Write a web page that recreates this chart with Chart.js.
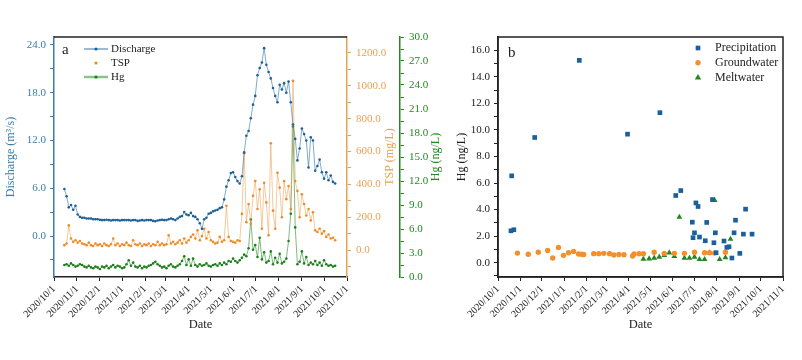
<!DOCTYPE html>
<html>
<head>
<meta charset="utf-8">
<script src="https://cdn.jsdelivr.net/npm/chart.js@4.4.1/dist/chart.umd.min.js"></script>
<style>
  html, body { margin: 0; padding: 0; background: #fff; }
  #chartA { position: absolute; left: 0; top: 0; }
  #chartB { position: absolute; left: 446px; top: 0; }
</style>
</head>
<body>
<canvas id="chartA" width="446" height="360"></canvas>
<canvas id="chartB" width="356" height="360"></canvas>
<script>
// month ticks shared by both panels
const monthLabels = ['2020/10/1', '2020/11/1', '2020/12/1', '2021/1/1', '2021/2/1', '2021/3/1', '2021/4/1',
    '2021/5/1', '2021/6/1', '2021/7/1', '2021/8/1', '2021/9/1', '2021/10/1', '2021/11/1'];

// panel a: river series, one reading every 3 days from 2020/10/15
const seriesStart = '2020/10/15';
const seriesStep = 3;
const discharge = [
    5.9, 5.0, 3.6, 3.9, 3.3, 3.8, 2.7, 2.4, 2.3, 2.3,
    2.2, 2.2, 2.2, 2.1, 2.1, 2.1, 2.05, 2.0, 2.0, 2.05,
    2.0, 1.95, 2.0, 2.0, 2.0, 1.95, 2.0, 2.0, 2.0, 2.0,
    1.95, 2.0, 2.0, 1.9, 1.95, 2.0, 1.95, 2.0, 2.0, 2.0,
    1.9, 1.85, 1.95, 2.0, 2.05, 2.0, 2.0, 2.1, 2.2, 2.1,
    2.0, 2.2, 2.4, 2.5, 3.0, 2.7, 2.6, 2.9, 2.5, 2.4,
    2.1, 1.6, 0.9, 2.1, 2.3, 2.8, 2.9, 3.1, 3.2, 3.3,
    3.5, 3.6, 4.6, 6.2, 7.0, 7.9, 8.0, 7.4, 6.9, 6.6,
    7.5, 10.5, 12.6, 13.2, 14.8, 16.5, 17.6, 20.2, 21.1, 21.8,
    23.6, 21.5, 20.6, 19.8, 18.6, 17.6, 16.8, 19.0, 18.4, 19.2,
    18.0, 19.4, 16.8, 14.0, 12.2, 9.5, 11.0, 13.5, 12.8, 12.0,
    8.6, 12.4, 12.0, 8.2, 8.8, 9.6, 8.0, 7.2, 8.0, 7.0,
    7.6, 6.8, 6.6
];
const tsp = [
    30, 40, 150, 70, 50, 60, 45, 55, 40, 35,
    30, 45, 30, 25, 40, 30, 35, 25, 40, 30,
    25, 35, 70, 30, 40, 25, 35, 30, 45, 30,
    25, 60, 35, 30, 40, 25, 35, 30, 40, 25,
    35, 30, 50, 30, 40, 30, 35, 90, 40, 50,
    35, 45, 60, 40, 70, 45, 60, 80, 95, 70,
    120, 60, 85, 130, 70, 110, 60, 50, 40, 45,
    80, 50, 60, 270, 80, 55, 50, 45, 60, 55,
    220, 590, 170, 280, 160, 330, 420, 250, 370, 130,
    410, 290, 90, 650, 240, 130, 470, 380, 200, 420,
    310, 390, 250, 1030, 420, 360, 200, 340, 280, 210,
    250, 180, 230, 120, 110, 130, 100, 115, 80, 95,
    70, 75, 60
];
const hgRiver = [
    1.5, 1.6, 1.4, 1.7, 1.5, 1.3, 1.4, 1.6, 1.5, 1.3,
    1.2, 1.4, 1.2, 1.1, 1.3, 1.2, 1.0, 1.3, 1.2, 1.4,
    1.1, 1.3, 1.5, 1.2, 1.4, 1.3, 1.1, 1.2, 1.6, 2.1,
    1.4, 1.8, 1.3, 1.2, 1.4, 1.1, 1.3, 1.2, 1.4, 1.5,
    1.7, 1.9, 1.6, 1.4, 1.2, 1.3, 1.1, 1.4, 1.6, 1.3,
    1.2, 1.4, 1.6, 2.0, 2.6, 1.5, 2.2, 1.4, 2.3, 1.5,
    1.3, 1.6, 1.4, 1.5, 1.7, 1.4, 1.3, 1.5, 1.6, 1.4,
    1.7, 1.5, 1.8, 1.6, 2.0, 1.9, 2.3, 2.0, 1.8, 2.1,
    2.4, 2.8, 2.6, 3.6, 7.2, 3.4, 4.0, 2.5, 4.9, 2.2,
    3.1, 1.8, 2.0, 3.2, 1.6, 2.4, 1.8, 2.9, 1.7, 1.9,
    2.3, 4.5, 7.9, 18.8, 6.2, 1.6, 1.9, 3.2, 1.7, 2.5,
    1.5, 1.8, 1.6, 2.0, 1.5, 1.8, 1.4, 2.1, 1.6, 1.4,
    1.5, 1.3, 1.4
];

// panel b: Hg in water sources
const precipDates = ['2020/10/19', '2020/10/20', '2020/10/23', '2020/11/21', '2021/1/22', '2021/3/30', '2021/5/14',
    '2021/6/5', '2021/6/12', '2021/6/28', '2021/6/29', '2021/7/1', '2021/7/3', '2021/7/6', '2021/7/8', '2021/7/16',
    '2021/7/18', '2021/7/26', '2021/7/28', '2021/7/30', '2021/7/31', '2021/8/11', '2021/8/15', '2021/8/18',
    '2021/8/22', '2021/8/25', '2021/8/27', '2021/9/2', '2021/9/7', '2021/9/10', '2021/9/19'];
const precipHg = [2.4, 6.54, 2.48, 9.43, 15.24, 9.68, 11.3,
    5.06, 5.43, 3.05, 1.88, 2.25, 4.5, 4.23, 1.93, 1.65,
    3.03, 4.75, 1.5, 2.25, 0.75, 1.63, 1.15, 1.2,
    0.35, 2.25, 3.2, 0.7, 2.15, 4.03, 2.15];
const groundDates = ['2020/10/28', '2020/11/12', '2020/11/26', '2020/12/9', '2020/12/16', '2020/12/24', '2020/12/31',
    '2021/1/7', '2021/1/14', '2021/1/21', '2021/1/25', '2021/1/28', '2021/2/11', '2021/2/18', '2021/2/25', '2021/3/5',
    '2021/3/11', '2021/3/18', '2021/3/25', '2021/4/6', '2021/4/8', '2021/4/15', '2021/4/21', '2021/5/6', '2021/5/20',
    '2021/6/3', '2021/6/17', '2021/7/1', '2021/7/15', '2021/7/22', '2021/7/29', '2021/8/13'];
const groundHg = [0.72, 0.63, 0.78, 0.92, 0.35, 1.15, 0.55,
    0.75, 0.85, 0.65, 0.63, 0.62, 0.68, 0.68, 0.7, 0.68,
    0.58, 0.62, 0.6, 0.5, 0.65, 0.67, 0.67, 0.78, 0.7,
    0.7, 0.7, 0.78, 0.75, 0.75, 0.72, 0.78];
const meltDates = ['2021/4/21', '2021/4/29', '2021/5/6', '2021/5/13', '2021/5/20', '2021/5/27', '2021/6/3', '2021/6/10',
    '2021/6/17', '2021/6/24', '2021/7/1', '2021/7/8', '2021/7/15', '2021/7/22', '2021/7/29', '2021/8/5', '2021/8/13',
    '2021/8/20'];
const meltHg = [0.28, 0.3, 0.35, 0.43, 0.55, 0.75, 0.48, 3.43,
    0.35, 0.35, 0.43, 0.25, 0.25, 0.75, 4.7, 0.25, 0.38,
    1.78];

// axis ticks (every other one gets a label)
const dischargeTicks = [-3, 0, 3, 6, 9, 12, 15, 18, 21, 24];
const tspTicks = [-100, 0, 100, 200, 300, 400, 500, 600, 700, 800, 900, 1000, 1100, 1200];
const hgTicks = [0, 1.5, 3, 4.5, 6, 7.5, 9, 10.5, 12, 13.5, 15, 16.5, 18, 19.5, 21, 22.5, 24, 25.5, 27, 28.5, 30];
const sampleTicks = [-1, 0, 1, 2, 3, 4, 5, 6, 7, 8, 9, 10, 11, 12, 13, 14, 15, 16];

const serif = '"Liberation Serif", "Times New Roman", serif';
const BLUE = '#3b7daa', ORANGE = '#e9a153', GREEN = '#1f8a1f', INK = '#222';
Chart.defaults.font.family = serif;
Chart.defaults.animation = false;

function dayOf(str) {
    const [y, m, d] = str.split('/').map(Number);
    return (Date.UTC(y, m - 1, d) - Date.UTC(2020, 9, 1)) / 864e5;
}
const monthDays = monthLabels.map(dayOf);

function daily(values) {
    const start = dayOf(seriesStart);
    return values.map((v, i) => ({ x: start + i * seriesStep, y: v }));
}
function pairs(dates, values) {
    return dates.map((d, i) => ({ x: dayOf(d), y: values[i] }));
}

function dateAxis() {
    return {
        type: 'linear', min: monthDays[0], max: monthDays[monthDays.length - 1],
        afterBuildTicks: s => { s.ticks = monthDays.map(v => ({ value: v })); },
        afterFit: s => { s.height = 59; },
        ticks: { autoSkip: false, minRotation: 45, maxRotation: 45, padding: 2, color: INK,
            font: { size: 10 }, callback: (v, i) => monthLabels[i] },
        grid: { drawOnChartArea: false, tickLength: 4, color: INK },
        border: { color: INK, width: 1.5 },
        title: { display: true, text: 'Date', color: INK, font: { size: 12.5 }, padding: { top: 0, bottom: 4 } }
    };
}

function valueAxis(opts) {
    return {
        position: opts.position, min: opts.min, max: opts.max, weight: opts.weight || 0,
        afterBuildTicks: s => { s.ticks = opts.ticks.map(v => ({ value: v })); },
        afterFit: s => { s.width = opts.width; },
        ticks: { autoSkip: false, color: opts.color, padding: opts.padding, font: { size: 11 },
            callback: v => (v % opts.every === 0 ? v.toFixed(1) : '') },
        grid: { drawOnChartArea: false, tickLength: 4, color: opts.color },
        border: { color: opts.color, width: 1.5 },
        title: opts.title ? { display: true, text: opts.title, color: opts.color, font: { size: 12 },
            padding: { top: opts.titlePad, bottom: 0 } } : { display: false }
    };
}

function vertText(ctx, text, x, y, color) {
    ctx.save();
    ctx.translate(x, y);
    ctx.rotate(-Math.PI / 2);
    ctx.fillStyle = color;
    ctx.font = '12px ' + serif;
    ctx.textAlign = 'center';
    ctx.textBaseline = 'middle';
    ctx.fillText(text, 0, 0);
    ctx.restore();
}

function marker(ctx, style, x, y, r, color) {
    ctx.fillStyle = color;
    ctx.beginPath();
    if (style === 'rect') {
        const s = r * Math.SQRT1_2;
        ctx.rect(x - s, y - s, 2 * s, 2 * s);
    } else if (style === 'triangle') {
        ctx.moveTo(x, y - r);
        ctx.lineTo(x + r * 0.95, y + r * 0.6);
        ctx.lineTo(x - r * 0.95, y + r * 0.6);
        ctx.closePath();
    } else {
        ctx.arc(x, y, r, 0, Math.PI * 2);
    }
    ctx.fill();
}

// frame, panel letter, legend and right-hand axis titles for panel a
const decorA = {
    id: 'decorA',
    afterDraw(chart) {
        const { ctx, chartArea: a } = chart;
        ctx.save();
        ctx.strokeStyle = INK;
        ctx.lineWidth = 1.5;
        ctx.beginPath();
        ctx.moveTo(a.left, a.top);
        ctx.lineTo(a.right, a.top);
        ctx.stroke();

        ctx.fillStyle = INK;
        ctx.font = '15px ' + serif;
        ctx.textBaseline = 'middle';
        ctx.fillText('a', a.left + 8, a.top + 13);

        ctx.font = '11px ' + serif;
        chart.data.datasets.forEach((ds, i) => {
            const y = a.top + 12 + i * 14;
            if (ds.legendLine) {
                ctx.strokeStyle = ds.legendLine;
                ctx.lineWidth = ds.legendLineWidth;
                ctx.beginPath();
                ctx.moveTo(a.left + 30, y);
                ctx.lineTo(a.left + 54, y);
                ctx.stroke();
            }
            marker(ctx, 'circle', a.left + 42, y, 1.6, ds.pointBackgroundColor);
            ctx.fillStyle = INK;
            ctx.fillText(ds.label, a.left + 57, y);
        });

        vertText(ctx, 'TSP (mg/L)', chart.scales.yTsp.right - 10, (a.top + a.bottom) / 2, ORANGE);
        vertText(ctx, 'Hg (ng/L)', chart.scales.yHg.right - 9, (a.top + a.bottom) / 2, GREEN);
        ctx.restore();
    }
};

const decorB = {
    id: 'decorB',
    afterDraw(chart) {
        const { ctx, chartArea: a } = chart;
        ctx.save();
        ctx.strokeStyle = INK;
        ctx.lineWidth = 1.5;
        ctx.strokeRect(a.left, a.top, a.right - a.left, a.bottom - a.top);

        ctx.fillStyle = INK;
        ctx.font = '15px ' + serif;
        ctx.textBaseline = 'middle';
        ctx.fillText('b', a.left + 10, a.top + 16);

        ctx.font = '12px ' + serif;
        chart.data.datasets.forEach((ds, i) => {
            const y = a.top + 11 + i * 14.7;
            marker(ctx, ds.pointStyle, a.right - 85, y, ds.pointRadius, ds.backgroundColor);
            ctx.fillStyle = INK;
            ctx.fillText(ds.label, a.right - 68, y);
        });
        ctx.restore();
    }
};

new Chart(document.getElementById('chartA'), {
    type: 'scatter',
    data: {
        datasets: [
            { label: 'Discharge', data: daily(discharge), yAxisID: 'y', showLine: true,
                borderColor: 'rgba(45,115,170,0.75)', borderWidth: 0.8,
                pointRadius: 1.3, pointBorderWidth: 0, pointBackgroundColor: '#1d6096',
                legendLine: '#3a78a8', legendLineWidth: 1 },
            { label: 'TSP', data: daily(tsp), yAxisID: 'yTsp', showLine: true,
                borderColor: 'rgba(236,160,80,0.7)', borderWidth: 0.8,
                pointRadius: 1.3, pointBorderWidth: 0, pointBackgroundColor: '#f08a24' },
            { label: 'Hg', data: daily(hgRiver), yAxisID: 'yHg', showLine: true,
                borderColor: 'rgba(40,140,40,0.75)', borderWidth: 0.8,
                pointRadius: 1.3, pointBorderWidth: 0, pointBackgroundColor: '#1c7f1c',
                legendLine: '#8cc48c', legendLineWidth: 2.5 }
        ]
    },
    options: {
        responsive: false,
        layout: { padding: { top: 37, right: 1, bottom: 24, left: 0 } },
        plugins: { legend: { display: false }, tooltip: { enabled: false } },
        scales: {
            x: dateAxis(),
            y: valueAxis({ position: 'left', min: -5.15, max: 25, ticks: dischargeTicks, every: 6, width: 54,
                color: BLUE, padding: 4, title: 'Discharge (m³/s)', titlePad: 4 }),
            yTsp: valueAxis({ position: 'right', min: -164, max: 1297, ticks: tspTicks, every: 200, width: 53,
                color: ORANGE, padding: 5 }),
            yHg: valueAxis({ position: 'right', min: 0, max: 30, ticks: hgTicks, every: 3, width: 45, weight: 1,
                color: GREEN, padding: 5 })
        }
    },
    plugins: [decorA]
});

new Chart(document.getElementById('chartB'), {
    type: 'scatter',
    data: {
        datasets: [
            { label: 'Precipitation', data: pairs(precipDates, precipHg), pointStyle: 'rect', pointRadius: 3.3,
                backgroundColor: '#1b5f9b', borderWidth: 0 },
            { label: 'Groundwater', data: pairs(groundDates, groundHg), pointStyle: 'circle', pointRadius: 2.7,
                backgroundColor: '#f3902c', borderWidth: 0 },
            { label: 'Meltwater', data: pairs(meltDates, meltHg), pointStyle: 'triangle', pointRadius: 3.4,
                backgroundColor: '#23871f', borderWidth: 0 }
        ]
    },
    options: {
        responsive: false,
        layout: { padding: { top: 37, right: 19, bottom: 24, left: 0 } },
        plugins: { legend: { display: false }, tooltip: { enabled: false } },
        scales: {
            x: dateAxis(),
            y: valueAxis({ position: 'left', min: -1.08, max: 17, ticks: sampleTicks, every: 2, width: 52,
                color: INK, padding: 4, title: 'Hg (ng/L)', titlePad: 9 })
        }
    },
    plugins: [decorB]
});
</script>
</body>
</html>
